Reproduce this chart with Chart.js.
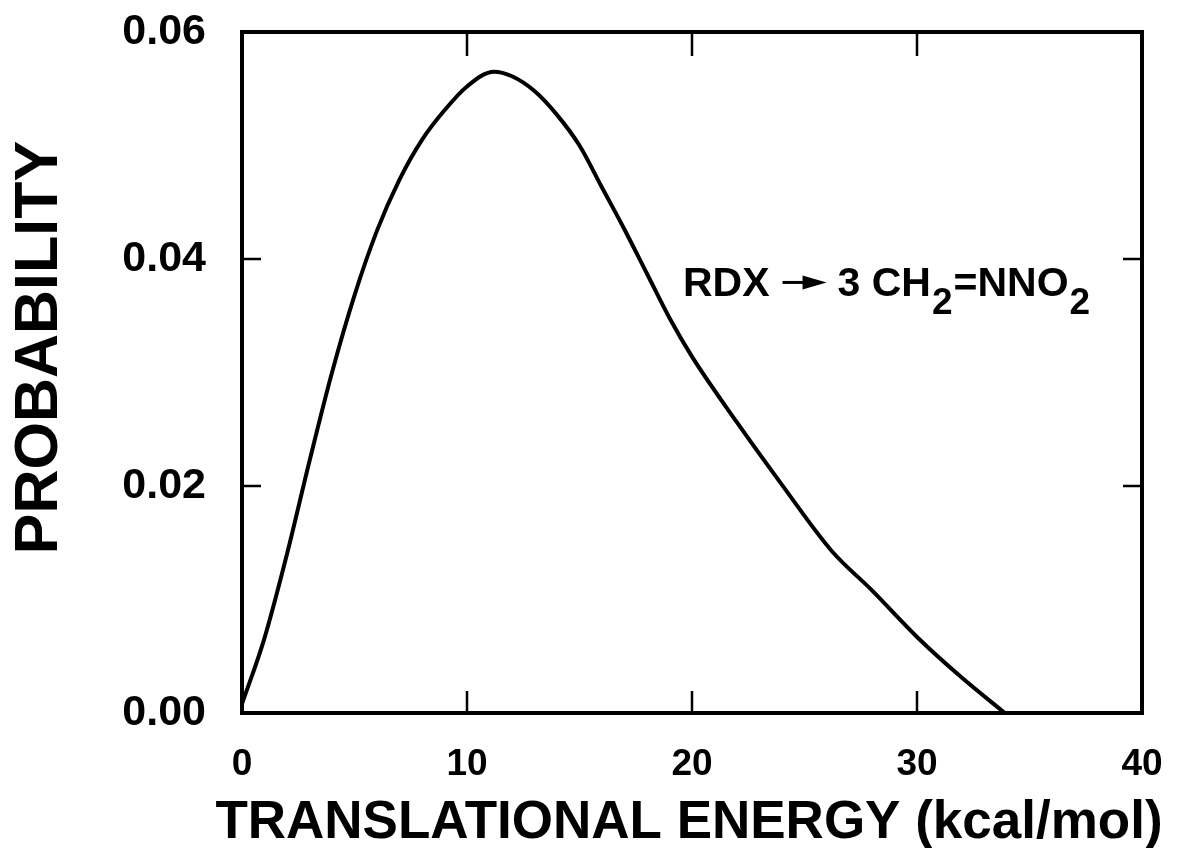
<!DOCTYPE html>
<html>
<head>
<meta charset="utf-8">
<script src="https://cdn.jsdelivr.net/npm/chart.js@4.4.1/dist/chart.umd.min.js"></script>
<style>
html, body { margin: 0; padding: 0; background: #fff; }
#wrap { width: 1183px; height: 848px; }
</style>
</head>
<body>
<div id="wrap"><canvas id="mycanvas"></canvas></div>
<script>
// values
var energy = [0, 1, 2, 3, 4, 5, 6, 7, 8, 9, 10, 11.2, 12, 13, 14, 15, 16, 17, 18, 19, 20, 22, 24, 26.2, 28, 30, 32, 33.9];
var probability = [0.0008, 0.0066, 0.0140, 0.0222, 0.0300, 0.0368, 0.0425, 0.0470, 0.0505, 0.0531, 0.0552, 0.0565, 0.0561, 0.0548, 0.0527, 0.0500, 0.0463, 0.0426, 0.0387, 0.0348, 0.0314, 0.0256, 0.0201, 0.0143, 0.0108, 0.0067, 0.0031, 0.0];
var xTicks = [0, 10, 20, 30, 40];
var yTicks = [0, 0.02, 0.04, 0.06];
var xTitle = "TRANSLATIONAL ENERGY (kcal/mol)";
var yTitle = "PROBABILITY";
var label = { x: 19.6, y: 0.0367 };

var points = [];
for (var i in energy) {
	points.push({ x: energy[i], y: probability[i] });
}

var FONT = "'Liberation Sans', Arial, Helvetica, sans-serif";

// box round the plot, inward ticks on all four sides, axis titles and the reaction label
var framePlugin = {
	id: 'frame',
	afterDatasetsDraw: function(chart) {
		var ctx = chart.ctx;
		var a = chart.chartArea;
		var sx = chart.scales.x, sy = chart.scales.y;
		ctx.save();
		ctx.strokeStyle = '#000';
		ctx.lineWidth = 4;
		ctx.strokeRect(a.left, a.top, a.right - a.left, a.bottom - a.top);

		ctx.lineWidth = 2.5;
		ctx.beginPath();
		xTicks.slice(1, -1).forEach(function(v) {
			var px = sx.getPixelForValue(v);
			ctx.moveTo(px, a.bottom); ctx.lineTo(px, a.bottom - 22);
			ctx.moveTo(px, a.top); ctx.lineTo(px, a.top + 24);
		});
		yTicks.slice(1, -1).forEach(function(v) {
			var py = sy.getPixelForValue(v);
			ctx.moveTo(a.left, py); ctx.lineTo(a.left + 19, py);
			ctx.moveTo(a.right, py); ctx.lineTo(a.right - 19, py);
		});
		ctx.stroke();

		ctx.fillStyle = '#000';

		// x axis title
		ctx.font = 'bold 53px ' + FONT;
		ctx.textAlign = 'center';
		ctx.textBaseline = 'alphabetic';
		ctx.fillText(xTitle, (a.left + a.right) / 2 - 3, a.bottom + 125);

		// y axis title
		ctx.save();
		ctx.translate(40, (a.top + a.bottom) / 2 - 25);
		ctx.rotate(-Math.PI / 2);
		ctx.font = 'bold 61px ' + FONT;
		ctx.textAlign = 'center';
		ctx.textBaseline = 'middle';
		ctx.fillText(yTitle, 0, 0);
		ctx.restore();

		// RDX -> 3 CH2=NNO2
		var x = sx.getPixelForValue(label.x);
		var y = sy.getPixelForValue(label.y);
		ctx.textBaseline = 'alphabetic';
		ctx.textAlign = 'left';
		var big = 'bold 41px ' + FONT, sub = 'bold 37px ' + FONT;
		ctx.font = big;
		ctx.fillText('RDX', x, y);
		x += ctx.measureText('RDX').width + 13;
		var ay = y - 14;
		ctx.lineWidth = 3;
		ctx.beginPath(); ctx.moveTo(x, ay); ctx.lineTo(x + 28, ay); ctx.stroke();
		ctx.beginPath(); ctx.moveTo(x + 20, ay - 7); ctx.lineTo(x + 44, ay); ctx.lineTo(x + 20, ay + 7); ctx.closePath(); ctx.fill();
		x += 55;
		ctx.fillText('3 CH', x, y);
		x += ctx.measureText('3 CH').width + 1;
		ctx.font = sub;
		ctx.fillText('2', x, y + 18);
		x += ctx.measureText('2').width + 1;
		ctx.font = big;
		ctx.fillText('=NNO', x, y);
		x += ctx.measureText('=NNO').width + 1;
		ctx.font = sub;
		ctx.fillText('2', x, y + 18);
		ctx.restore();
	}
};

var chartdata = {
	datasets: [
		{
			label: "P(E)",
			data: points,
			fill: false,
			borderColor: "#000",
			borderWidth: 4,
			pointRadius: 0,
			cubicInterpolationMode: 'monotone'
		}
	]
};

var ctx = document.getElementById("mycanvas");

var LineGraph = new Chart(ctx, {
	type: 'line',
	data: chartdata,
	plugins: [framePlugin],
	options: {
		responsive: true,
		maintainAspectRatio: false,
		animation: false,
		layout: { padding: { top: 32, right: 41, left: 0, bottom: 0 } },
		plugins: { legend: { display: false }, tooltip: { enabled: false } },
		scales: {
			x: {
				type: 'linear',
				min: 0, max: 40,
				afterBuildTicks: function(s) { s.ticks = xTicks.map(function(v) { return { value: v }; }); },
				afterFit: function(s) { s.height = 135; s.paddingLeft = 0; s.paddingRight = 0; },
				grid: { display: false, drawTicks: false },
				border: { display: false },
				ticks: { color: '#000', padding: 30, font: { family: FONT, size: 37, weight: 'bold' } },
				title: { display: false }
			},
			y: {
				min: 0, max: 0.06,
				afterBuildTicks: function(s) { s.ticks = yTicks.map(function(v) { return { value: v }; }); },
				afterFit: function(s) { s.width = 242; s.paddingTop = 0; s.paddingBottom = 0; },
				grid: { display: false, drawTicks: false },
				border: { display: false },
				ticks: { color: '#000', padding: 36, font: { family: FONT, size: 43, weight: 'bold' },
					callback: function(v) { return v.toFixed(2); } },
				title: { display: false }
			}
		}
	}
});
</script>
</body>
</html>
